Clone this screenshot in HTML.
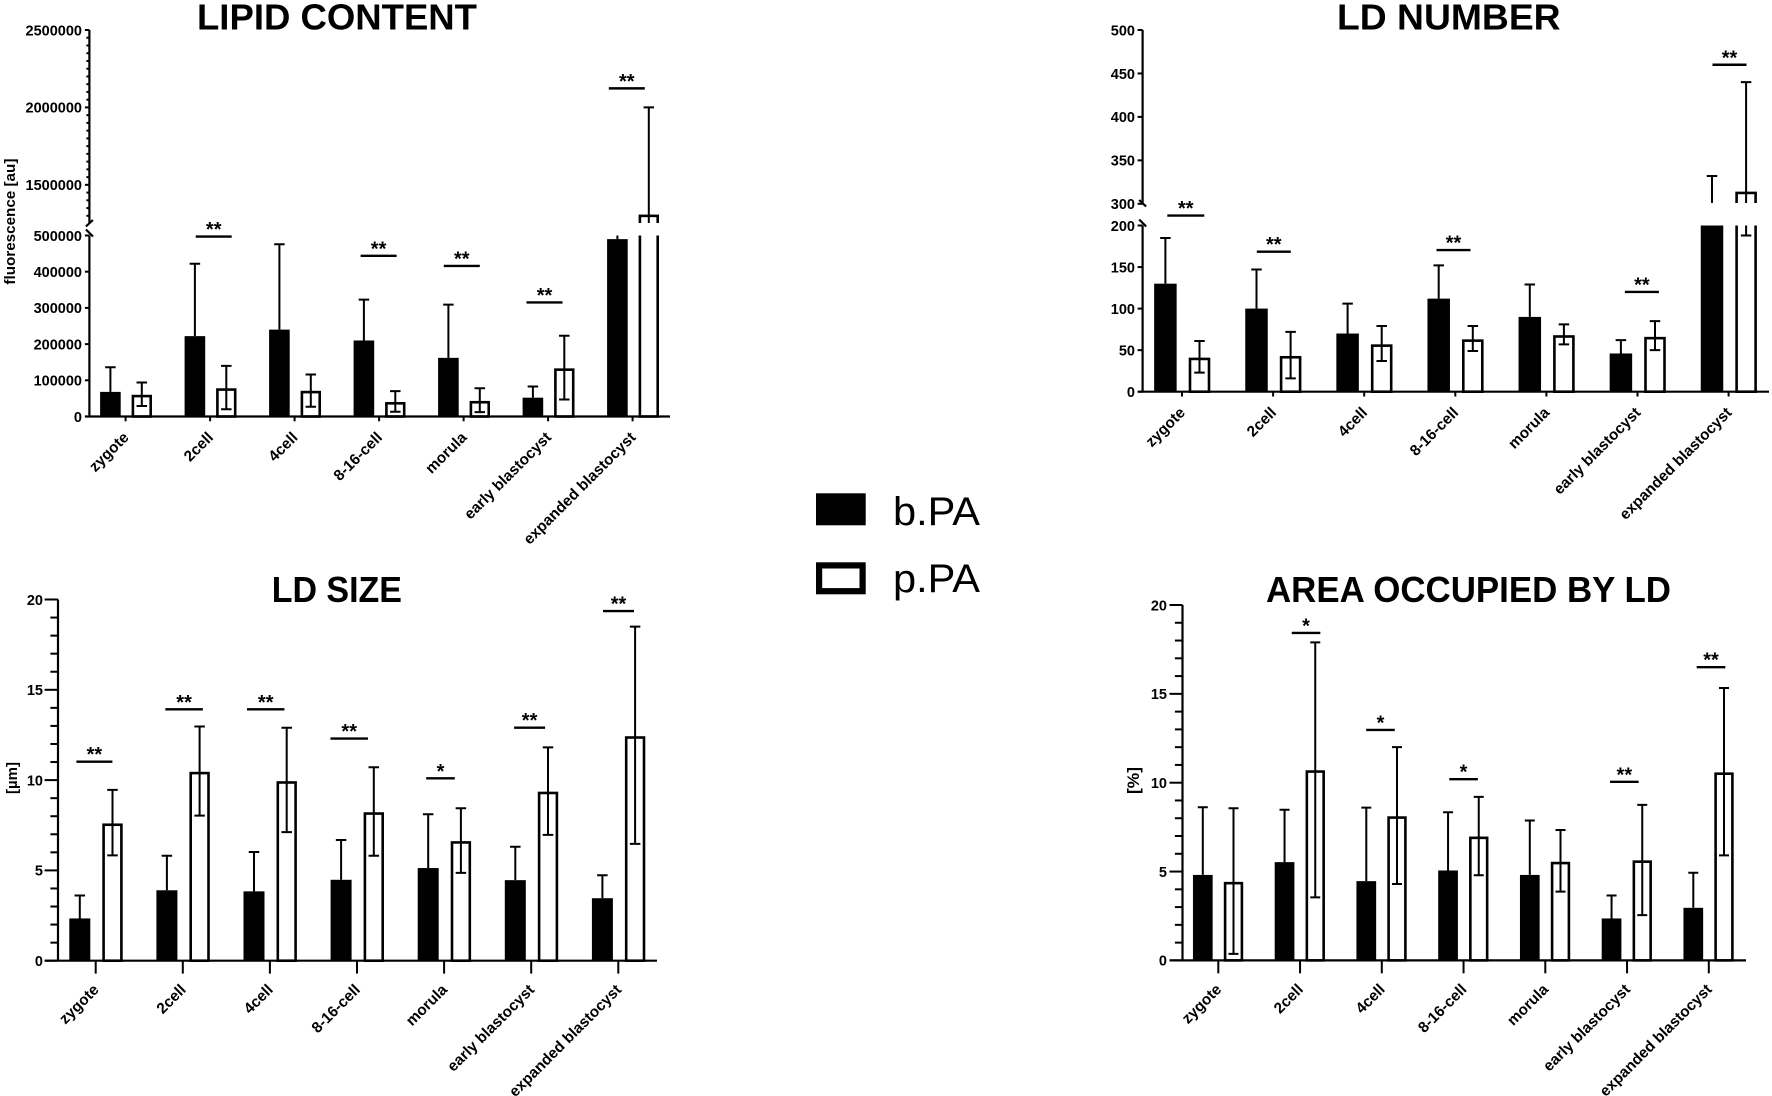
<!DOCTYPE html>
<html lang="en">
<head>
<meta charset="utf-8">
<title>Lipid droplet measurements across embryo stages</title>
<style>
html,body{margin:0;padding:0;background:#fff;}
svg{display:block;filter:blur(0.35px);}
text{font-family:"Liberation Sans",Arial,sans-serif;fill:#000;}
.title{font-size:36px;font-weight:700;}
.tick{font-size:14.5px;font-weight:700;}
.cat{font-size:15.3px;font-weight:700;}
.ytitle{font-weight:700;}
.star{font-size:20px;font-weight:700;}
.legend{font-size:40px;}
</style>
</head>
<body>
<svg id="figure" xmlns="http://www.w3.org/2000/svg" width="1772" height="1096" viewBox="0 0 1772 1096">
  <rect width="1772" height="1096" fill="#fff"/>
  <g id="panel-lipid">
    <text class="title" x="197" y="29.5" textLength="280" lengthAdjust="spacingAndGlyphs">LIPID CONTENT</text>
    <text class="ytitle" font-size="14.5" transform="translate(15,221.6) rotate(-90)" text-anchor="middle" textLength="126" lengthAdjust="spacingAndGlyphs">fluorescence [au]</text>
  </g>
  <g id="panel-number">
    <text class="title" x="1337" y="29.5" textLength="223.6" lengthAdjust="spacingAndGlyphs">LD NUMBER</text>
  </g>
  <g id="panel-size">
    <text class="title" x="271.7" y="602" textLength="130.3" lengthAdjust="spacingAndGlyphs">LD SIZE</text>
    <text class="ytitle" font-size="15" transform="translate(17,778) rotate(-90)" text-anchor="middle" textLength="32" lengthAdjust="spacingAndGlyphs">[µm]</text>
  </g>
  <g id="panel-area">
    <text class="title" x="1266" y="602" textLength="405" lengthAdjust="spacingAndGlyphs">AREA OCCUPIED BY LD</text>
    <text class="ytitle" font-size="17" transform="translate(1139,780.5) rotate(-90)" text-anchor="middle" textLength="27" lengthAdjust="spacingAndGlyphs">[%]</text>
  </g>
  <g id="legend">
    <rect x="816" y="493.3" width="49.7" height="32" fill="#000"/>
    <text class="legend" x="893" y="525" textLength="87" lengthAdjust="spacingAndGlyphs">b.PA</text>
    <rect x="819.1" y="565.4" width="43.5" height="25.8" fill="#fff" stroke="#000" stroke-width="6.2"/>
    <text class="legend" x="893" y="592" textLength="87" lengthAdjust="spacingAndGlyphs">p.PA</text>
  </g>
</svg>
<script>
const categories = ['zygote','2cell','4cell','8-16-cell','morula','early blastocyst','expanded blastocyst'];

const lipidB = [68000,222000,240000,210000,162000,52000,490000];
const lipidBTop = [136000,422000,476000,323000,309000,83000,800000];
const lipidP = [60000,78000,71000,40000,43000,133000,1308000];
const lipidPTop = [94000,140000,116000,70000,78000,223000,2000000];
const lipidPLow = [29000,20000,27000,13000,12000,47000,616000];
const lipidSigCat = [1,3,4,5,6];
const lipidSigLevel = [497000,444000,416000,315000,2123000];
const lipidSigLabel = ['**','**','**','**','**'];
const lipidTicks = [0,100000,200000,300000,400000,500000,1500000,2000000,2500000];
const lipidTickLabels = ['0','100000','200000','300000','400000','500000','1500000','2000000','2500000'];
const lipidMinorTicks = [1300000,1350000,1400000,1450000,1550000,1600000,1650000,1700000,1750000,1800000,1850000,1900000,1950000,2050000,2100000,2150000,2200000,2250000,2300000,2350000,2400000,2450000];

const numberB = [130,100,70,112,90,46,240];
const numberBTop = [185,147,106,152,129,62,332];
const numberP = [41,43,57,63,68,66,314];
const numberPTop = [61,72,79,79,81,85,440];
const numberPLow = [23,16,37,49,57,50,188];
const numberSigCat = [0,1,3,5,6];
const numberSigLevel = [246,168.5,170.5,120,460];
const numberSigLabel = ['**','**','**','**','**'];
const numberTicks = [0,50,100,150,200,300,350,400,450,500];
const numberTickLabels = ['0','50','100','150','200','300','350','400','450','500'];
const numberMinorTicks = [];

const sizeB = [2.34,3.9,3.84,4.48,5.13,4.46,3.46];
const sizeBTop = [3.61,5.81,6.02,6.68,8.11,6.31,4.73];
const sizeP = [7.6,10.46,9.94,8.22,6.62,9.36,12.43];
const sizePTop = [9.46,12.97,12.9,10.71,8.44,11.81,18.5];
const sizePLow = [5.83,8.03,7.12,5.81,4.86,6.97,6.47];
const sizeSigCat = [0,1,2,3,4,5,6];
const sizeSigLevel = [11.02,13.92,13.92,12.3,10.1,12.9,19.36];
const sizeSigLabel = ['**','**','**','**','*','**','**'];
const sizeTicks = [0,5,10,15,20];
const sizeTickLabels = ['0','5','10','15','20'];
const sizeMinorTicks = [1,2,3,4,6,7,8,9,11,12,13,14,16,17,18,19];

const areaB = [4.81,5.53,4.46,5.06,4.81,2.36,2.96];
const areaBTop = [8.62,8.48,8.6,8.34,7.87,3.65,4.93];
const areaP = [4.42,10.7,8.11,6.97,5.55,5.63,10.58];
const areaPTop = [8.56,17.9,12,9.2,7.34,8.75,15.33];
const areaPLow = [0.37,3.55,4.3,4.79,3.87,2.55,5.91];
const areaSigCat = [1,2,3,5,6];
const areaSigLevel = [18.43,12.97,10.2,10.05,16.5];
const areaSigLabel = ['*','*','*','**','**'];
const areaTicks = [0,5,10,15,20];
const areaTickLabels = ['0','5','10','15','20'];
const areaMinorTicks = [1,2,3,4,6,7,8,9,11,12,13,14,16,17,18,19];

const SVGNS = 'http://www.w3.org/2000/svg';

function mk(parent, tag, attrs) {
  const el = document.createElementNS(SVGNS, tag);
  for (const k in attrs) el.setAttribute(k, attrs[k]);
  parent.appendChild(el);
  return el;
}

function makeYScale(vals, pxs) {
  return function (v) {
    let i = 0;
    while (i < vals.length - 2 && v > vals[i + 1]) i++;
    return pxs[i] + (v - vals[i]) / (vals[i + 1] - vals[i]) * (pxs[i + 1] - pxs[i]);
  };
}

function makeXScale(first, step) {
  return function (i) { return first + i * step; };
}

function drawPanel(id, prefix, d, L) {
  const g = document.getElementById(id);
  const y = makeYScale(L.yVals, L.yPx);
  const x = makeXScale(L.firstTick, L.step);
  const base = y(0);

  categories.forEach(function (cat, i) {
    const cx = x(i);
    const slug = prefix + '-' + cat.replace(/ /g, '-');

    const bar = mk(g, 'rect', {x: cx + L.bOff - L.bW / 2, y: y(d.b[i]), width: L.bW, height: base - y(d.b[i]), fill: '#000'});
    
    

    const bx = cx + L.bOff;
    const bErr = mk(g, 'path', {d: 'M' + bx + ' ' + y(d.b[i]) + 'V' + y(d.bTop[i]) + 'M' + (bx - L.cap / 2) + ' ' + y(d.bTop[i]) + 'H' + (bx + L.cap / 2), fill: 'none', stroke: '#000', 'stroke-width': 2});
    
    

    const sw = 2.6;
    const open = mk(g, 'rect', {x: cx + L.pOff - L.pW / 2 + sw / 2, y: y(d.p[i]) + sw / 2, width: L.pW - sw, height: base - y(d.p[i]) - sw / 2, fill: '#fff', stroke: '#000', 'stroke-width': sw});
    
    

    const px = cx + L.pOff;
    const pErr = mk(g, 'path', {d: 'M' + px + ' ' + y(d.pLow[i]) + 'V' + y(d.pTop[i]) + 'M' + (px - L.cap / 2) + ' ' + y(d.pTop[i]) + 'H' + (px + L.cap / 2) + 'M' + (px - L.cap / 2) + ' ' + y(d.pLow[i]) + 'H' + (px + L.cap / 2), fill: 'none', stroke: '#000', 'stroke-width': 2});
    
    
  });

  if (L.gap) {
    const mask = mk(g, 'rect', {x: L.axisX + 1.5, y: L.gap[0], width: L.xEnd - L.axisX, height: L.gap[1] - L.gap[0], fill: '#fff'});
    
    
  }

  let axisPath = 'M' + L.xStart + ' ' + base + 'H' + L.xEnd;
  const xAxis = mk(g, 'path', {d: axisPath, fill: 'none', stroke: '#000', 'stroke-width': 2.2});
  
  

  let yPath;
  if (L.gap) {
    yPath = 'M' + L.axisX + ' ' + base + 'V' + L.gap[1] + 'M' + L.axisX + ' ' + L.gap[0] + 'V' + y(d.ticks[d.ticks.length - 1])
      + 'M' + (L.axisX - 3.4) + ' ' + (L.gap[1] - 6) + 'L' + (L.axisX + 3.6) + ' ' + (L.gap[1] + 1)
      + 'M' + (L.axisX + L.slashDir * 3.5) + ' ' + (L.gap[0] - 3) + 'L' + (L.axisX - L.slashDir * 3.5) + ' ' + (L.gap[0] + 3.5);
  } else {
    yPath = 'M' + L.axisX + ' ' + base + 'V' + y(d.ticks[d.ticks.length - 1]);
  }
  const yAxis = mk(g, 'path', {d: yPath, fill: 'none', stroke: '#000', 'stroke-width': 2.2});
  
  

  d.ticks.forEach(function (t, i) {
    const yy = y(t);
    const tk = mk(g, 'line', {x1: L.axisX - L.majorLen, x2: L.axisX, y1: yy, y2: yy, stroke: '#000', 'stroke-width': 2});
    
    
    const lb = mk(g, 'text', {x: L.labelX, y: yy + 5.3, 'text-anchor': 'end', class: 'tick'});
    
    
    lb.textContent = d.tickLabels[i];
  });

  d.minor.forEach(function (t) {
    const yy = y(t);
    const tk = mk(g, 'line', {x1: L.axisX - L.minorLen, x2: L.axisX, y1: yy, y2: yy, stroke: '#000', 'stroke-width': 2});
    
    
  });

  categories.forEach(function (cat, i) {
    const cx = x(i);
    const tk = mk(g, 'line', {x1: cx, x2: cx, y1: base, y2: base + L.xTickLen, stroke: '#000', 'stroke-width': 2});
    
    
    const ax = cx + 4;
    const ay = base + L.xTickLen + 17;
    const lb = mk(g, 'text', {x: ax, y: ay, 'text-anchor': 'end', class: 'cat', transform: 'rotate(-45 ' + ax + ' ' + ay + ')'});
    
    
    lb.textContent = cat;
  });

  d.sigCat.forEach(function (c, i) {
    const cx = x(c) + L.sigDx[i];
    const yy = y(d.sigLevel[i]);
    const hw = L.sigW[i] / 2;
    const ln = mk(g, 'line', {x1: cx - hw, x2: cx + hw, y1: yy, y2: yy, stroke: '#000', 'stroke-width': 2.4});
    
    
    const st = mk(g, 'text', {x: cx, y: yy - 0.5, 'text-anchor': 'middle', class: 'star'});
    
    
    st.textContent = d.sigLabel[i];
  });
}

drawPanel('panel-lipid', 'lipid',
  {b: lipidB, bTop: lipidBTop, p: lipidP, pTop: lipidPTop, pLow: lipidPLow, sigCat: lipidSigCat, sigLevel: lipidSigLevel, sigLabel: lipidSigLabel, ticks: lipidTicks, tickLabels: lipidTickLabels, minor: lipidMinorTicks},
  {yVals: [0,500000,1260000,2500000], yPx: [416.5,235.5,222,30], firstTick: 125.6, step: 84.5, bOff: -15.2, bW: 20.6, pOff: 16.2, pW: 20.4, cap: 10.5,
   axisX: 89.4, xStart: 85, xEnd: 670, gap: [223,235.5], slashDir: 1, majorLen: 4.5, minorLen: 3, labelX: 82, xTickLen: 4.8,
   sigDx: [3.6,-0.5,-1.8,-3.6,-5.8], sigW: [36,36,36,36,36]});

drawPanel('panel-number', 'number',
  {b: numberB, bTop: numberBTop, p: numberP, pTop: numberPTop, pLow: numberPLow, sigCat: numberSigCat, sigLevel: numberSigLevel, sigLabel: numberSigLabel, ticks: numberTicks, tickLabels: numberTickLabels, minor: numberMinorTicks},
  {yVals: [0,200,300,500], yPx: [391.7,225.5,203.8,30], firstTick: 1182, step: 91.1, bOff: -16.6, bW: 22.5, pOff: 17.5, pW: 21.6, cap: 10.5,
   axisX: 1142.6, xStart: 1138.3, xEnd: 1769, gap: [203,225.5], slashDir: -1, majorLen: 5, minorLen: 3, labelX: 1135, xTickLen: 4.8,
   sigDx: [3.8,0.7,-1.8,4.4,0.9], sigW: [37,34,34,34,34]});

drawPanel('panel-size', 'size',
  {b: sizeB, bTop: sizeBTop, p: sizeP, pTop: sizePTop, pLow: sizePLow, sigCat: sizeSigCat, sigLevel: sizeSigLevel, sigLabel: sizeSigLabel, ticks: sizeTicks, tickLabels: sizeTickLabels, minor: sizeMinorTicks},
  {yVals: [0,20], yPx: [960.7,599.5], firstTick: 95.7, step: 87.1, bOff: -15.9, bW: 21, pOff: 16.8, pW: 20.4, cap: 10.5,
   axisX: 58, xStart: 44.7, xEnd: 657, gap: null, slashDir: 1, majorLen: 13.4, minorLen: 7.6, labelX: 43, xTickLen: 12.9,
   sigDx: [-1.3,1.3,-4.2,-7.8,-3.6,-1.6,0.2], sigW: [36,37.5,37.5,37.5,28.6,31,31]});

drawPanel('panel-area', 'area',
  {b: areaB, bTop: areaBTop, p: areaP, pTop: areaPTop, pLow: areaPLow, sigCat: areaSigCat, sigLevel: areaSigLevel, sigLabel: areaSigLabel, ticks: areaTicks, tickLabels: areaTickLabels, minor: areaMinorTicks},
  {yVals: [0,20], yPx: [960.4,605], firstTick: 1218.3, step: 81.75, bOff: -15.5, bW: 19.7, pOff: 15.2, pW: 19.4, cap: 10,
   axisX: 1182.5, xStart: 1169.7, xEnd: 1746, gap: null, slashDir: 1, majorLen: 13, minorLen: 7.6, labelX: 1167, xTickLen: 12.9,
   sigDx: [6,-1.3,0,-2.7,2.2], sigW: [28.6,28.6,28.6,28.6,28.6]});
</script>
</body>
</html>
